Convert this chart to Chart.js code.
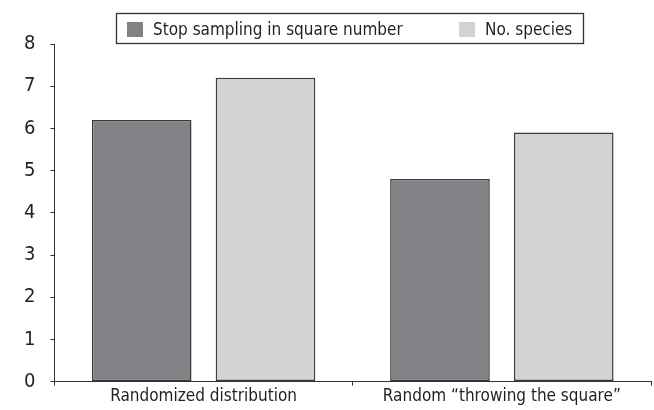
<!DOCTYPE html>
<html>
<head>
<meta charset="utf-8">
<script src="https://cdn.jsdelivr.net/npm/chart.js@4.4.1/dist/chart.umd.min.js"></script>
<style>
  html, body { margin: 0; padding: 0; background: #fff; }
  #wrap { width: 654px; height: 410px; }
</style>
</head>
<body>
<div id="wrap"><canvas id="chart"></canvas></div>
<script>
const categories = ['Randomized distribution', 'Random \u201cthrowing the square\u201d'];
const seriesNames = ['Stop sampling in square number', 'No. species'];
const stopSampling = [6.2, 4.8];
const noSpecies = [7.2, 5.9];
const yTicks = [0, 1, 2, 3, 4, 5, 6, 7, 8];

const FONT = '"Liberation Sans Narrow", "DejaVu Sans Condensed", Arial, sans-serif';
const colors = ['#808285', '#d1d3d4'];

// framed legend, drawn from the dataset labels
const boxLegend = {
    id: 'boxLegend',
    afterDraw(chart) {
        const c = chart.ctx;
        c.save();
        c.strokeStyle = '#333';
        c.lineWidth = 1.3;
        c.strokeRect(116.5, 13.5, 467, 30);
        c.font = '17px ' + FONT;
        c.textBaseline = 'alphabetic';
        const xs = [127, 459];
        chart.data.datasets.forEach((ds, i) => {
            c.fillStyle = ds.backgroundColor;
            c.fillRect(xs[i], 22, 16, 15);
            c.fillStyle = '#231f20';
            c.fillText(ds.label, xs[i] + 26, 34.5);
        });
        c.restore();
    }
};

const ctx = document.getElementById('chart');

new Chart(ctx, {
    type: 'bar',
    data: {
        labels: categories,
        datasets: [{
            label: seriesNames[0],
            data: stopSampling,
            backgroundColor: colors[0],
            borderColor: '#3a3a3a',
            borderWidth: 1.5,
            borderSkipped: false
        }, {
            label: seriesNames[1],
            data: noSpecies,
            backgroundColor: colors[1],
            borderColor: '#3a3a3a',
            borderWidth: 1.5,
            borderSkipped: false
        }]
    },
    options: {
        responsive: true,
        maintainAspectRatio: false,
        animation: false,
        categoryPercentage: 0.83,
        barPercentage: 0.805,
        layout: { padding: { top: 44, left: 9, right: 3, bottom: 2 } },
        plugins: {
            legend: { display: false },
            tooltip: { enabled: false }
        },
        scales: {
            x: {
                offset: true,
                grid: { offset: true, drawOnChartArea: false, tickLength: 4, color: '#333' },
                border: { color: '#333', width: 1 },
                ticks: { color: '#231f20', font: { family: FONT, size: 17 }, padding: 1 }
            },
            y: {
                min: 0,
                max: 8,
                afterBuildTicks: (axis) => { axis.ticks = yTicks.map(v => ({ value: v })); },
                grid: { drawOnChartArea: false, tickLength: 4, color: '#333' },
                border: { color: '#333', width: 1 },
                ticks: { color: '#231f20', font: { family: FONT, size: 20 }, padding: 15 }
            }
        }
    },
    plugins: [boxLegend]
});
</script>
</body>
</html>
